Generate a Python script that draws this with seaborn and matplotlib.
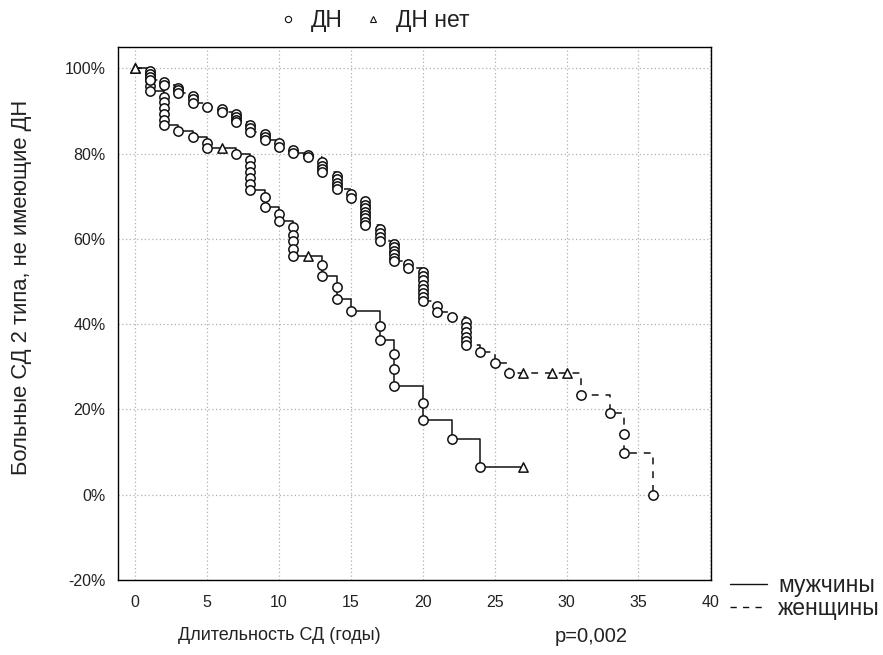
import numpy as np
import pandas as pd
import matplotlib
matplotlib.use("Agg")
import matplotlib.pyplot as plt
from matplotlib.lines import Line2D
import seaborn as sns

# Kaplan-Meier survival without diabetic nephropathy (ДН), by sex
# Event markers (ДН): time in years, survival in % after each event
men_event_t = [1, 1, 1, 1, 2, 2, 2, 2, 2, 2, 3, 4, 5, 5, 7,
               8, 8, 8, 8, 8, 8, 9, 9, 10, 10, 11, 11, 11, 11, 11,
               13, 13, 14, 14, 15, 17, 17, 18, 18, 18, 20, 20, 22, 24]
men_event_s = [98.6, 97.3, 95.9, 94.6, 93.3, 92.0, 90.6, 89.3, 87.9, 86.6,
               85.2, 83.9, 82.5, 81.2, 79.8,
               78.4, 77.0, 75.6, 74.2, 72.8, 71.4, 69.8, 67.5, 65.8, 64.2,
               62.7, 61.0, 59.4, 57.7, 56.1,
               53.9, 51.2, 48.6, 45.8, 43.0, 39.5, 36.4, 33.0, 29.4, 25.5,
               21.5, 17.6, 13.0, 6.5]
# Censored observations (ДН нет)
men_cens_t = [0, 6, 12, 27]
men_cens_s = [100.0, 81.2, 56.1, 6.5]

women_event_t = [1, 1, 1, 1, 2, 2, 3, 3, 3, 4, 4, 4, 5, 6, 6,
                 7, 7, 7, 7, 8, 8, 8, 9, 9, 9, 10, 10, 11, 11, 12, 12,
                 13, 13, 13, 13, 14, 14, 14, 14, 14, 15, 15,
                 16, 16, 16, 16, 16, 16, 16, 16, 17, 17, 17, 17,
                 18, 18, 18, 18, 18, 18, 19, 19,
                 20, 20, 20, 20, 20, 20, 20, 20, 21, 21, 22,
                 23, 23, 23, 23, 23, 23, 24, 25, 26, 31, 33, 34, 34, 36]
women_event_s = [99.4, 98.7, 98.0, 97.3, 96.7, 96.1, 95.5, 94.9, 94.3,
                 93.5, 92.7, 91.9, 91.0, 90.4, 89.8,
                 89.2, 88.5, 87.9, 87.3, 86.6, 85.9, 85.1, 84.5, 83.9, 83.3,
                 82.5, 81.6, 80.9, 80.2, 79.6, 79.1,
                 78.0, 77.2, 76.4, 75.6, 74.8, 74.0, 73.2, 72.4, 71.6,
                 70.6, 69.6,
                 68.8, 68.0, 67.2, 66.4, 65.6, 64.8, 64.0, 63.2,
                 62.3, 61.4, 60.5, 59.6,
                 58.8, 58.0, 57.2, 56.4, 55.6, 54.8, 54.0, 53.2,
                 52.3, 51.3, 50.3, 49.3, 48.3, 47.3, 46.4, 45.4,
                 44.3, 42.9, 41.6,
                 40.4, 39.3, 38.2, 37.1, 36.0, 35.0, 33.4, 31.0, 28.5,
                 23.5, 19.1, 14.2, 9.9, 0.0]
women_cens_t = [0, 27, 29, 30]
women_cens_s = [100.0, 28.5, 28.5, 28.5]

group_names = ["мужчины", "женщины"]
x_ticks = [0, 5, 10, 15, 20, 25, 30, 35, 40]
y_ticks = [-20, 0, 20, 40, 60, 80, 100]
y_tick_labels = ["-20%", "0%", "20%", "40%", "60%", "80%", "100%"]

events = pd.concat([
    pd.DataFrame({"t": men_event_t, "s": men_event_s, "group": group_names[0]}),
    pd.DataFrame({"t": women_event_t, "s": women_event_s, "group": group_names[1]}),
])
censored = pd.concat([
    pd.DataFrame({"t": men_cens_t, "s": men_cens_s, "group": group_names[0]}),
    pd.DataFrame({"t": women_cens_t, "s": women_cens_s, "group": group_names[1]}),
])

# Step curve: survival level reached at each observed time
allpts = pd.concat([events, censored])
steps = (allpts.groupby(["group", "t"], as_index=False)["s"].min()
         .sort_values(["group", "t"]))

sns.set_style("white")
plt.rcParams["font.family"] = ["Liberation Sans", "DejaVu Sans"]

W, H = 883, 655
fig = plt.figure(figsize=(W / 100, H / 100), dpi=100)
ax = fig.add_axes([118 / W, 1 - 580 / H, (711 - 118) / W, (580 - 47) / H])

ink = "#111111"
txt = "#222222"
dash = (0, (4.5, 4.5))
legend_fs = 16.5

for name, ls in zip(group_names, ["-", dash]):
    d = steps[steps["group"] == name]
    sns.lineplot(data=d, x="t", y="s", ax=ax, estimator=None, sort=False,
                 drawstyle="steps-post", color=ink, linewidth=1.1,
                 linestyle=ls, zorder=2)

sns.scatterplot(data=events, x="t", y="s", ax=ax, marker="o", s=45,
                facecolor="white", edgecolor=ink, linewidth=1.1, zorder=3,
                legend=False)
sns.scatterplot(data=censored, x="t", y="s", ax=ax, marker="^", s=45,
                facecolor="white", edgecolor=ink, linewidth=1.1, zorder=3,
                legend=False)

ax.set_xlim(-1.2, 40.05)
ax.set_ylim(-20, 105)
ax.set_xticks(x_ticks)
ax.set_yticks(y_ticks)
ax.set_yticklabels(y_tick_labels)
ax.grid(True, color="#b0b0b0", linestyle=(0, (1, 2)), linewidth=0.9)
ax.set_axisbelow(True)
for sp in ax.spines.values():
    sp.set_color("black")
    sp.set_linewidth(1.0)
ax.tick_params(direction="out", length=3, width=0.8, color="black",
               labelsize=11.5, labelcolor=txt)
ax.tick_params(axis="x", pad=8)
ax.tick_params(axis="y", pad=6)
ax.set_xlabel("")
ax.set_ylabel("")

fig.text(22 / W, 1 - 287 / H, "Больные СД 2 типа, не имеющие ДН",
         rotation=90, ha="center", va="center", fontsize=15.8, color=txt)
fig.text(178 / W, 1 - 636 / H, "Длительность СД (годы)",
         ha="left", va="center", fontsize=13, color=txt)
fig.text(555 / W, 1 - 636 / H, "p=0,002",
         ha="left", va="center", fontsize=14.5, color=txt)

# Marker legend on top
mk_handles = [
    Line2D([], [], marker="o", linestyle="none", markersize=4.5,
           markerfacecolor="white", markeredgecolor=ink, markeredgewidth=0.8),
    Line2D([], [], marker="^", linestyle="none", markersize=4.5,
           markerfacecolor="white", markeredgecolor=ink, markeredgewidth=0.8),
]
fig.legend(mk_handles, ["ДН", "ДН нет"], loc="center",
           bbox_to_anchor=(374 / W, 1 - 21 / H), ncol=2, frameon=False,
           fontsize=legend_fs, handletextpad=0.6, columnspacing=0.9,
           handlelength=0.8, labelcolor=txt, borderpad=0)

# Line-style legend at bottom right
ln_handles = [
    Line2D([], [], color=ink, linewidth=1.0, linestyle="-"),
    Line2D([], [], color=ink, linewidth=1.0, linestyle=dash),
]
fig.legend(ln_handles, group_names, loc="upper left",
           bbox_to_anchor=(730 / W, 1 - 574 / H), frameon=False,
           fontsize=legend_fs, handlelength=1.6, handletextpad=0.5,
           labelspacing=0.0, labelcolor=txt, borderaxespad=0,
           borderpad=0)

fig.savefig("out.png", dpi=100)
